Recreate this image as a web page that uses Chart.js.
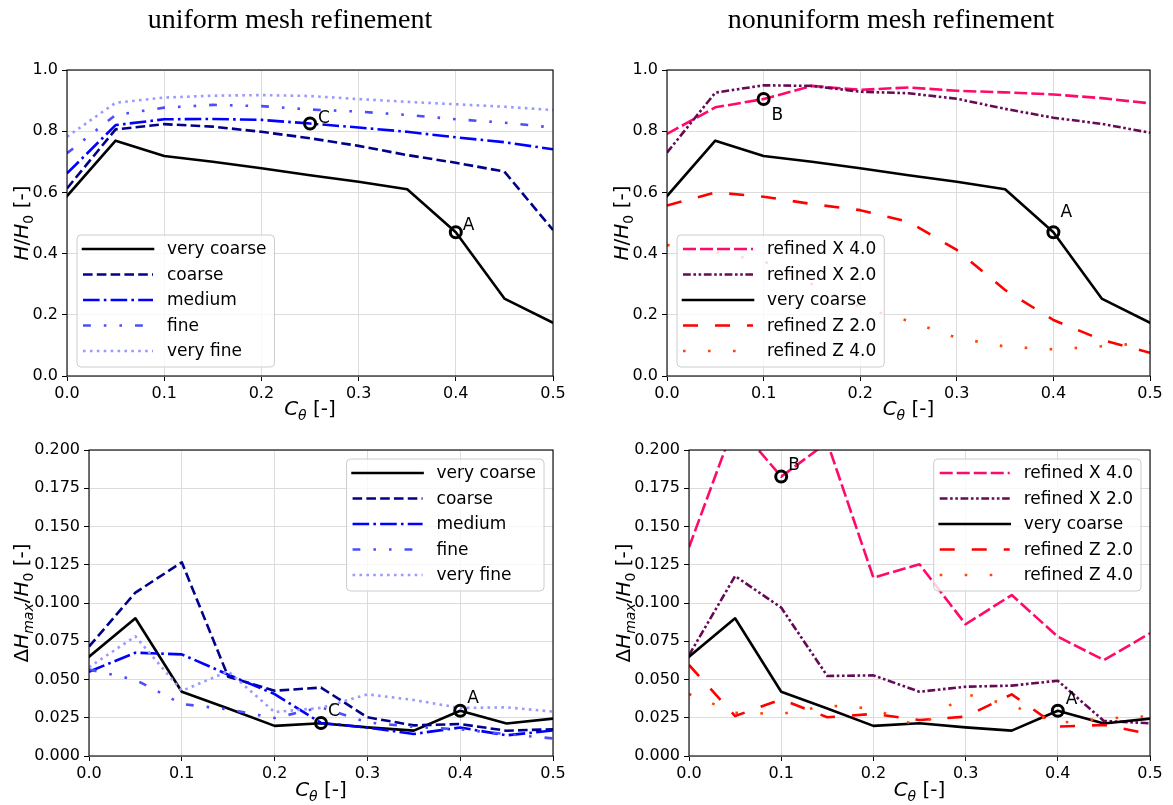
<!DOCTYPE html>
<html>
<head>
<meta charset="utf-8">
<script src="https://cdn.jsdelivr.net/npm/chart.js@4.4.1/dist/chart.umd.min.js"></script>
<style>
  html, body { margin: 0; padding: 0; background: #fff; }
  #page { position: relative; width: 1173px; height: 805px; overflow: hidden; }
  canvas { position: absolute; }
  .title { position: absolute; width: 400px; text-align: center; font: 28px/28px "Liberation Serif", serif; color: #000; }
</style>
</head>
<body>
<div id="page">
  <canvas id="h-uniform" width="600" height="420" style="left:0;top:0"></canvas>
  <canvas id="h-nonuniform" width="573" height="420" style="left:600px;top:0"></canvas>
  <canvas id="d-uniform" width="600" height="385" style="left:0;top:420px"></canvas>
  <canvas id="d-nonuniform" width="573" height="385" style="left:600px;top:420px"></canvas>
  <div class="title" style="left:90px;top:5px">uniform mesh refinement</div>
  <div class="title" style="left:691px;top:5px">nonuniform mesh refinement</div>
</div>
<script>
// C_theta, gemeinsame x-Werte aller Kurven
const cTheta = [0, 0.05, 0.1, 0.15, 0.2, 0.25, 0.3, 0.35, 0.4, 0.45, 0.5];

// H/H0
const hVeryCoarse = [0.588, 0.769, 0.719, 0.700, 0.679, 0.656, 0.635, 0.610, 0.470, 0.253, 0.174];
const hCoarse     = [0.613, 0.806, 0.823, 0.815, 0.798, 0.777, 0.752, 0.722, 0.697, 0.668, 0.477];
const hMedium     = [0.662, 0.820, 0.839, 0.840, 0.837, 0.825, 0.812, 0.798, 0.780, 0.764, 0.741];
const hFine       = [0.728, 0.853, 0.877, 0.886, 0.882, 0.871, 0.864, 0.853, 0.839, 0.828, 0.812];
const hVeryFine   = [0.782, 0.893, 0.910, 0.916, 0.918, 0.915, 0.905, 0.896, 0.888, 0.880, 0.869];
const hRefX4      = [0.791, 0.878, 0.905, 0.948, 0.935, 0.943, 0.932, 0.927, 0.920, 0.908, 0.891];
const hRefX2      = [0.730, 0.926, 0.950, 0.948, 0.929, 0.924, 0.906, 0.873, 0.844, 0.824, 0.795];
const hRefZ2      = [0.557, 0.600, 0.586, 0.562, 0.542, 0.504, 0.412, 0.281, 0.183, 0.118, 0.076];
const hRefZ4      = [0.428, 0.405, 0.375, 0.300, 0.225, 0.180, 0.125, 0.096, 0.087, 0.097, 0.109];

// dHmax/H0
const dVeryCoarse = [0.0649, 0.0900, 0.0420, 0.0310, 0.0197, 0.0214, 0.0187, 0.0166, 0.0296, 0.0212, 0.0244];
const dCoarse     = [0.0715, 0.1068, 0.1266, 0.0518, 0.0427, 0.0447, 0.0253, 0.0200, 0.0209, 0.0165, 0.0175];
const dMedium     = [0.0551, 0.0675, 0.0664, 0.0532, 0.0405, 0.0216, 0.0186, 0.0144, 0.0186, 0.0135, 0.0167];
const dFine       = [0.0566, 0.0498, 0.0340, 0.0305, 0.0248, 0.0318, 0.0220, 0.0190, 0.0174, 0.0143, 0.0115];
const dVeryFine   = [0.0580, 0.0782, 0.0426, 0.0553, 0.0287, 0.0315, 0.0403, 0.0366, 0.0314, 0.0318, 0.0290];
const dRefX4      = [0.1364, 0.2180, 0.1826, 0.2050, 0.1166, 0.1253, 0.0861, 0.1052, 0.0780, 0.0627, 0.0802];
const dRefX2      = [0.0660, 0.1176, 0.0970, 0.0523, 0.0527, 0.0420, 0.0453, 0.0460, 0.0492, 0.0229, 0.0214];
const dRefZ2      = [0.0595, 0.0261, 0.0370, 0.0253, 0.0275, 0.0235, 0.0257, 0.0403, 0.0192, 0.0203, 0.0144];
const dRefZ4      = [0.0405, 0.0283, 0.0275, 0.0330, 0.0310, 0.0190, 0.0405, 0.0330, 0.0215, 0.0245, 0.0260];

// Achsen-Ticks
const xTicks = [0, 0.1, 0.2, 0.3, 0.4, 0.5];
const hTicks = [0, 0.2, 0.4, 0.6, 0.8, 1.0];
const dTicks = [0, 0.025, 0.05, 0.075, 0.1, 0.125, 0.15, 0.175, 0.2];

const LW = 2.6;
const FONT = '"DejaVu Sans", sans-serif';

const styles = {
  'very coarse':   { color: '#000000', dash: [] },
  'coarse':        { color: '#00008b', dash: [9.6, 4.2] },
  'medium':        { color: '#0000ff', dash: [16.6, 4.2, 2.6, 4.2] },
  'fine':          { color: '#4d4dff', dash: [7.8, 13, 2.6, 13, 2.6, 13] },
  'very fine':     { color: '#9999ff', dash: [2.6, 4.3] },
  'refined X 4.0': { color: '#ff0a6a', dash: [13, 4] },
  'refined X 2.0': { color: '#650a55', dash: [7.8, 2.6, 2.6, 2.6, 2.6, 2.6] },
  'refined Z 2.0': { color: '#ff0000', dash: [15, 17] },
  'refined Z 4.0': { color: '#ff4500', dash: [2.6, 22.4] }
};

// Achsentitel als Segmente (kursiv / tiefgestellt)
const xTitle = [{ t: 'C', it: true }, { t: 'θ', it: true, sub: true }, { t: ' [-]' }];
const hTitle = [{ t: 'H', it: true }, { t: '/' }, { t: 'H', it: true }, { t: '0', sub: true }, { t: ' [-]' }];
const dTitle = [{ t: 'Δ' }, { t: 'H', it: true }, { t: 'max', it: true, sub: true }, { t: '/' },
                { t: 'H', it: true }, { t: '0', sub: true }, { t: ' [-]' }];

function series(label, values, i) {
  const s = styles[label];
  return {
    label,
    data: cTheta.map((x, k) => ({ x, y: values[k] })),
    borderColor: s.color,
    backgroundColor: s.color,
    borderWidth: LW,
    borderDash: s.dash,
    borderCapStyle: s.dash.length ? 'butt' : 'square',
    borderJoinStyle: 'round',
    pointRadius: 0,
    pointHoverRadius: 0,
    tension: 0,
    fill: false,
    clip: 0,
    order: -i
  };
}

function markers(points) {
  return {
    label: '',
    isMarker: true,
    data: points.map(p => ({ x: p[0], y: p[1] })),
    showLine: false,
    pointRadius: 5.5,
    pointBorderWidth: 3,
    pointBorderColor: '#000',
    pointBackgroundColor: 'rgba(0,0,0,0)',
    order: -100
  };
}

function drawRich(ctx, parts, cx, cy, size, rotate) {
  const fontOf = p => `${p.it ? 'italic ' : ''}${p.sub ? size * 0.7 : size}px ${FONT}`;
  ctx.save();
  ctx.translate(cx, cy);
  if (rotate) ctx.rotate(-Math.PI / 2);
  let total = 0;
  parts.forEach(p => { ctx.font = fontOf(p); total += ctx.measureText(p.t).width; });
  let x = -total / 2;
  ctx.fillStyle = '#000';
  ctx.textBaseline = 'alphabetic';
  ctx.textAlign = 'left';
  parts.forEach(p => {
    ctx.font = fontOf(p);
    ctx.fillText(p.t, x, size * 0.36 + (p.sub ? size * 0.22 : 0));
    x += ctx.measureText(p.t).width;
  });
  ctx.restore();
}

function drawLegend(ctx, chart, a, corner) {
  const items = chart.data.datasets.filter(d => !d.isMarker);
  ctx.font = `17px ${FONT}`;
  const textW = Math.max(...items.map(d => ctx.measureText(d.label).width));
  const rowH = 25.5;
  const w = 90 + textW + 8;
  const h = 14 + rowH * (items.length - 1) + 16;
  const x0 = corner === 'lowerleft' ? a.left + 10 : a.right - 9 - w;
  const y0 = corner === 'lowerleft' ? a.bottom - 9 - h : a.top + 9;

  ctx.beginPath();
  if (ctx.roundRect) ctx.roundRect(x0, y0, w, h, 4); else ctx.rect(x0, y0, w, h);
  ctx.fillStyle = 'rgba(255,255,255,0.8)';
  ctx.fill();
  ctx.strokeStyle = '#cccccc';
  ctx.lineWidth = 1;
  ctx.stroke();

  items.forEach((d, i) => {
    const y = y0 + 14 + i * rowH;
    ctx.beginPath();
    ctx.setLineDash(d.borderDash);
    ctx.lineCap = d.borderCapStyle;
    ctx.strokeStyle = d.borderColor;
    ctx.lineWidth = d.borderWidth;
    ctx.moveTo(x0 + 6, y);
    ctx.lineTo(x0 + 76, y);
    ctx.stroke();
    ctx.setLineDash([]);
    ctx.fillStyle = '#000';
    ctx.textAlign = 'left';
    ctx.textBaseline = 'middle';
    ctx.fillText(d.label, x0 + 90, y + 1);
  });
}

// Rahmen, Buchstaben an den Markern, Legende und Achsentitel
const panelDecor = {
  id: 'panelDecor',
  afterDatasetsDraw(chart, args, o) {
    const { ctx, chartArea: a } = chart;
    const xs = chart.scales.x, ys = chart.scales.y;
    ctx.save();
    ctx.setLineDash([]);
    ctx.strokeStyle = '#000';
    ctx.lineWidth = 1.1;
    ctx.strokeRect(a.left, a.top, a.right - a.left, a.bottom - a.top);

    ctx.font = `17px ${FONT}`;
    ctx.fillStyle = '#000';
    ctx.textAlign = 'left';
    ctx.textBaseline = 'alphabetic';
    o.notes.forEach(n => {
      ctx.fillText(n.text, xs.getPixelForValue(n.x) + n.dx, ys.getPixelForValue(n.y) + n.dy);
    });

    drawLegend(ctx, chart, a, o.corner);
    drawRich(ctx, xTitle, (a.left + a.right) / 2, o.xTitleY, 20, false);
    drawRich(ctx, o.yTitle, o.yTitleX, (a.top + a.bottom) / 2, 20, true);
    ctx.restore();
  }
};

function makePanel(cfg) {
  const el = document.getElementById(cfg.id);
  const W = el.width, H = el.height, A = cfg.area;
  const xAxisH = 30;
  const tickFont = { family: FONT, size: 16 };
  const datasets = cfg.lines.map((l, i) => series(l[0], l[1], i));
  datasets.push(markers(cfg.notes.map(n => [n.x, n.y])));

  return new Chart(el, {
    type: 'line',
    data: { datasets },
    plugins: [panelDecor],
    options: {
      responsive: false,
      animation: false,
      devicePixelRatio: 1,
      layout: { padding: { left: 0, top: A.top, right: W - A.right, bottom: H - A.bottom - xAxisH } },
      plugins: {
        legend: { display: false },
        tooltip: { enabled: false },
        panelDecor: { notes: cfg.notes, corner: cfg.corner, yTitle: cfg.yTitle, yTitleX: cfg.yTitleX, xTitleY: cfg.xTitleY }
      },
      scales: {
        x: {
          type: 'linear', min: 0, max: 0.5,
          afterFit: s => { s.height = xAxisH; },
          afterBuildTicks: s => { s.ticks = xTicks.map(v => ({ value: v })); },
          ticks: { font: tickFont, color: '#000', padding: 3, maxRotation: 0, autoSkip: false, callback: v => v.toFixed(1) },
          grid: { color: '#dcdcdc', lineWidth: 1, tickColor: '#000', tickLength: 5 },
          border: { display: false }
        },
        y: {
          type: 'linear', min: 0, max: cfg.yMax,
          afterFit: s => { s.width = A.left; },
          afterBuildTicks: s => { s.ticks = cfg.yTicks.map(v => ({ value: v })); },
          ticks: { font: tickFont, color: '#000', padding: 4, autoSkip: false, callback: v => v.toFixed(cfg.digits) },
          grid: { color: '#dcdcdc', lineWidth: 1, tickColor: '#000', tickLength: 5 },
          border: { display: false }
        }
      }
    }
  });
}

makePanel({
  id: 'h-uniform', area: { left: 67, top: 70, right: 553, bottom: 376 },
  yMax: 1.0, yTicks: hTicks, digits: 1, yTitle: hTitle, yTitleX: 21, xTitleY: 408, corner: 'lowerleft',
  lines: [['very coarse', hVeryCoarse], ['coarse', hCoarse], ['medium', hMedium], ['fine', hFine], ['very fine', hVeryFine]],
  notes: [{ text: 'A', x: 0.4, y: hVeryCoarse[8], dx: 7, dy: -2 }, { text: 'C', x: 0.25, y: hMedium[5], dx: 8, dy: -1 }]
});

makePanel({
  id: 'h-nonuniform', area: { left: 67, top: 70, right: 550, bottom: 376 },
  yMax: 1.0, yTicks: hTicks, digits: 1, yTitle: hTitle, yTitleX: 21, xTitleY: 408, corner: 'lowerleft',
  lines: [['refined X 4.0', hRefX4], ['refined X 2.0', hRefX2], ['very coarse', hVeryCoarse], ['refined Z 2.0', hRefZ2], ['refined Z 4.0', hRefZ4]],
  notes: [{ text: 'B', x: 0.1, y: hRefX4[2], dx: 8, dy: 21 }, { text: 'A', x: 0.4, y: hVeryCoarse[8], dx: 7, dy: -15 }]
});

makePanel({
  id: 'd-uniform', area: { left: 89, top: 30, right: 553, bottom: 336 },
  yMax: 0.2, yTicks: dTicks, digits: 3, yTitle: dTitle, yTitleX: 21, xTitleY: 369, corner: 'upperright',
  lines: [['very coarse', dVeryCoarse], ['coarse', dCoarse], ['medium', dMedium], ['fine', dFine], ['very fine', dVeryFine]],
  notes: [{ text: 'C', x: 0.25, y: dMedium[5], dx: 7, dy: -7 }, { text: 'A', x: 0.4, y: dVeryCoarse[8], dx: 7, dy: -8 }]
});

makePanel({
  id: 'd-nonuniform', area: { left: 89, top: 30, right: 550, bottom: 336 },
  yMax: 0.2, yTicks: dTicks, digits: 3, yTitle: dTitle, yTitleX: 23, xTitleY: 369, corner: 'upperright',
  lines: [['refined X 4.0', dRefX4], ['refined X 2.0', dRefX2], ['very coarse', dVeryCoarse], ['refined Z 2.0', dRefZ2], ['refined Z 4.0', dRefZ4]],
  notes: [{ text: 'B', x: 0.1, y: dRefX4[2], dx: 7, dy: -7 }, { text: 'A', x: 0.4, y: dVeryCoarse[8], dx: 8, dy: -7 }]
});
</script>
</body>
</html>
